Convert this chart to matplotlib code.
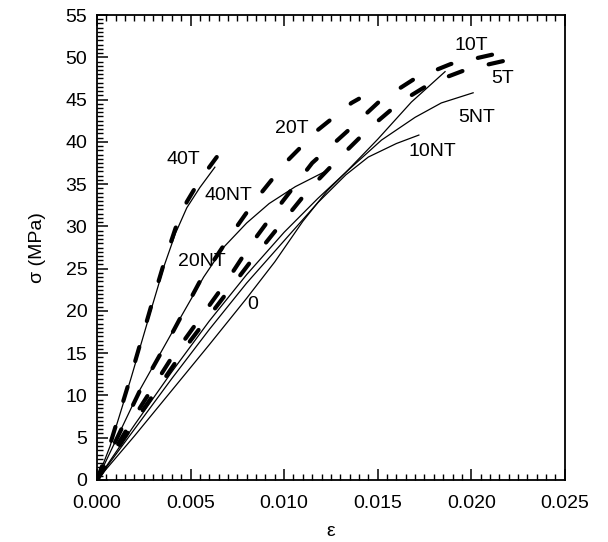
import matplotlib
matplotlib.use("Agg")
from matplotlib import pyplot as plt
from matplotlib.ticker import MultipleLocator, FormatStrFormatter

plt.rcParams['font.family'] = ['Liberation Sans', 'DejaVu Sans']

# strain / stress curves
eps_40T = [0, 0.0007, 0.0018, 0.0029, 0.0036, 0.0042, 0.0048, 0.0055, 0.0064]
sig_40T = [0, 4.2, 12.2, 20.6, 25.8, 29.8, 32.9, 35.5, 38.2]
eps_20T = [0, 0.0023, 0.0041, 0.0055, 0.0070, 0.0085, 0.0101, 0.0118, 0.0136, 0.0140]
sig_20T = [0, 10.6, 17.7, 23.5, 28.5, 33.2, 37.6, 41.4, 44.6, 45.1]
eps_10T = [0, 0.002, 0.004, 0.0069, 0.0082, 0.0099, 0.0115, 0.0134, 0.0151, 0.0170, 0.0189, 0.0211, 0.0216]
sig_10T = [0, 7.5, 14.5, 23.4, 27.8, 32.9, 37.5, 41.3, 44.8, 47.5, 49.2, 50.3, 50.5]
eps_5T = [0, 0.002, 0.005, 0.0082, 0.0098, 0.0113, 0.0129, 0.0145, 0.0162, 0.0179, 0.0198, 0.0220, 0.0225]
sig_5T = [0, 6.8, 16.5, 25.8, 30.2, 34.3, 38.0, 41.5, 44.7, 47.0, 48.6, 49.7, 49.9]

eps_40NT = [0, 0.0007, 0.0018, 0.0029, 0.0036, 0.0042, 0.0048, 0.0055, 0.0063]
sig_40NT = [0, 4.0, 11.9, 20.2, 25.4, 29.2, 32.2, 34.6, 37.0]
eps_20NT = [0, 0.0023, 0.0041, 0.0057, 0.0068, 0.0080, 0.0092, 0.0106, 0.0122]
sig_20NT = [0, 10.7, 17.8, 24.0, 27.6, 30.4, 32.7, 34.7, 36.5]
eps_10NT = [0, 0.002, 0.004, 0.006, 0.008, 0.010, 0.0118, 0.0133, 0.0145, 0.0160, 0.0172]
sig_10NT = [0, 6.0, 12.0, 17.8, 23.3, 28.3, 32.8, 36.1, 38.2, 39.8, 40.8]
eps_5NT = [0, 0.002, 0.004, 0.006, 0.008, 0.010, 0.0118, 0.0133, 0.0152, 0.0170, 0.0184, 0.0201]
sig_5NT = [0, 6.5, 12.8, 18.8, 24.3, 29.3, 33.3, 36.4, 40.2, 42.9, 44.6, 45.8]
eps_0 = [0, 0.002, 0.004, 0.006, 0.008, 0.0095, 0.011, 0.0123, 0.0133, 0.0150, 0.0168, 0.0186]
sig_0 = [0, 5.2, 10.6, 16.0, 21.5, 25.8, 30.6, 34.2, 36.4, 40.3, 44.7, 48.3]

labels = ["10T", "5T", "5NT", "10NT", "20T", "40T", "40NT", "20NT", "0"]
label_x = [0.0200, 0.0217, 0.0203, 0.0179, 0.0104, 0.0046, 0.0070, 0.0056, 0.0083]
label_y = [51.4, 47.5, 42.9, 38.8, 41.6, 37.9, 33.7, 25.8, 20.7]

fig = plt.figure(figsize=(6.08, 5.42), dpi=100)
ax = fig.add_axes([0.1595, 0.1144, 0.7695, 0.8579])

for e, s in [(eps_40NT, sig_40NT), (eps_20NT, sig_20NT), (eps_10NT, sig_10NT),
             (eps_5NT, sig_5NT), (eps_0, sig_0)]:
    ax.plot(e, s, color="black", linewidth=0.9)

for e, s in [(eps_40T, sig_40T), (eps_20T, sig_20T), (eps_10T, sig_10T), (eps_5T, sig_5T)]:
    ax.plot(e, s, color="black", linewidth=3, linestyle=(0, (3.5, 6.5)),
            dash_capstyle="round")

for lab, x, y in zip(labels, label_x, label_y):
    ax.text(x, y, lab, fontsize=14, ha="center", va="center")

ax.set_xlim(0, 0.025)
ax.set_ylim(0, 55)
ax.xaxis.set_major_locator(MultipleLocator(0.005))
ax.xaxis.set_minor_locator(MultipleLocator(0.0005))
ax.yaxis.set_major_locator(MultipleLocator(5))
ax.yaxis.set_minor_locator(MultipleLocator(0.5))
ax.xaxis.set_major_formatter(FormatStrFormatter("%.3f"))
ax.tick_params(which="both", direction="in", top=True, right=False, labelsize=14)
ax.tick_params(which="major", length=8, width=1.1)
ax.tick_params(axis="x", which="major", pad=11)
ax.tick_params(axis="y", which="major", pad=7)
ax.tick_params(which="minor", length=4, width=1)
for sp in ax.spines.values():
    sp.set_linewidth(1.3)

ax.set_xlabel("ε", fontsize=14, labelpad=8)
ax.set_ylabel("σ (MPa)", fontsize=14, labelpad=14)

# the "0" on the y axis sits a little above its tick in the original
fig.canvas.draw()
ax.yaxis.get_major_ticks()[0].label1.set_verticalalignment("bottom")

fig.savefig("out.png", dpi=100)
